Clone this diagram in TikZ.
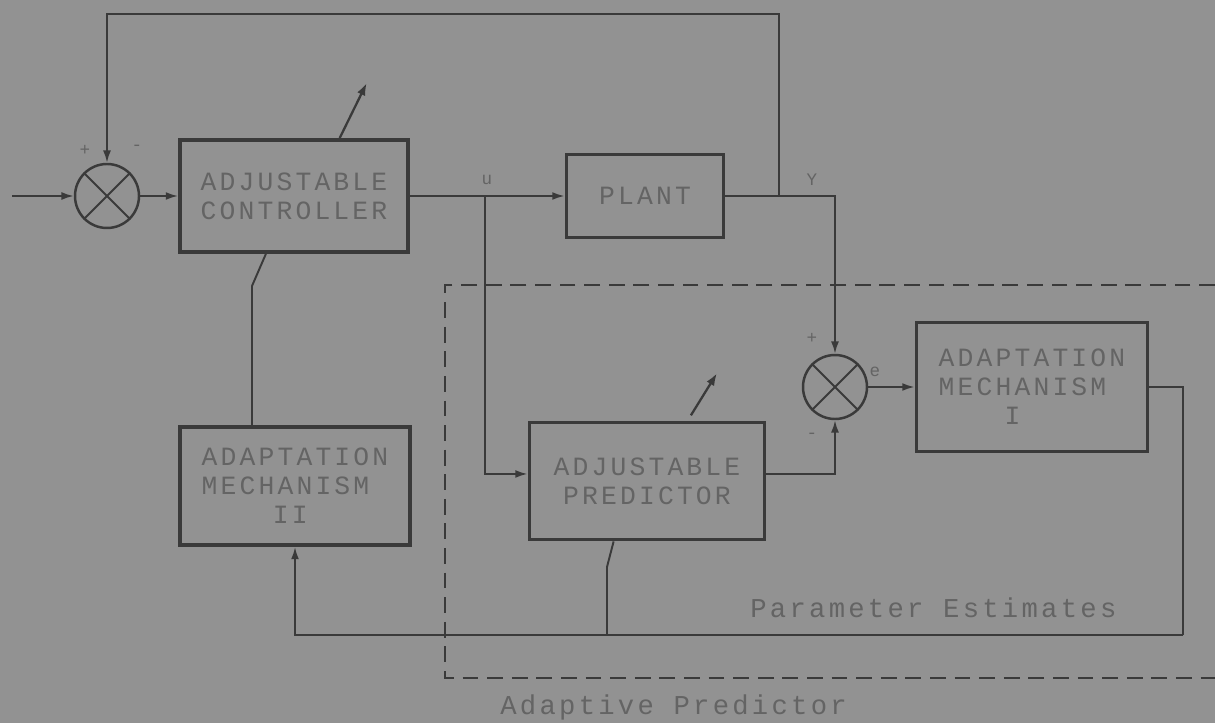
\documentclass[tikz,border=0pt]{standalone}
\usepackage{fontspec}
\newfontfamily\typewr[LetterSpace=12]{Liberation Mono}
\usepackage{xcolor}
\usetikzlibrary{arrows.meta,positioning}
\definecolor{paper}{RGB}{146,146,146}
\definecolor{ink}{RGB}{58,58,58}
\definecolor{typed}{RGB}{100,100,100}

\begin{document}
\begin{tikzpicture}[x=0.02cm, y=-0.02cm,
  block/.style={rectangle, draw=ink, line width=2.2pt, text=typed, align=center,
    inner sep=0pt, font=\typewr\fontsize{15}{16.5}\selectfont},
  summer/.style={circle, draw=ink, line width=1.4pt, minimum size=1.28cm, inner sep=0pt},
  wire/.style={draw=ink, line width=1.1pt},
  arr/.style={wire, -{Latex[length=7pt,width=4.5pt]}},
  tune/.style={draw=ink, line width=1.3pt, -{Latex[length=7pt,width=5pt]}},
  sign/.style={text=typed, font=\typewr\fontsize{10}{10}\selectfont, inner sep=0pt},
  dashbox/.style={draw=ink, line width=1.5pt, dash pattern=on 9pt off 5pt},
  note/.style={text=typed, font=\typewr\fontsize{15.5}{17}\selectfont, inner sep=0pt}
]

\fill[paper] (0,0) rectangle (1215,723);
\useasboundingbox (0,0) rectangle (1215,723);

% loop: controller and plant
\node[summer] (s1) at (107,196) {};
\node[block, minimum width=4.56cm, minimum height=2.24cm] (ctrl) at (294,196) {ADJUSTABLE\\CONTROLLER};
\node[block, minimum width=3.14cm, minimum height=1.66cm] (plant) at (645,196) {PLANT};

% adaptive part
\node[summer] (s2) at (835,387) {};
\node[block, minimum width=4.62cm, minimum height=2.58cm, align=left] (mechA) at (1032,387)
  {ADAPTATION\\MECHANISM\\\hspace*{2.5em}I};
\node[block, minimum width=4.7cm, minimum height=2.34cm] (pred) at (647,481) {ADJUSTABLE\\PREDICTOR};
\node[block, minimum width=4.6cm, minimum height=2.36cm, align=left] (mechB) at (295,486)
  {ADAPTATION\\MECHANISM\\\hspace*{2.7em}II};

\foreach \s in {s1,s2}
  \draw[ink, line width=1.1pt] (\s.north west) -- (\s.south east) (\s.north east) -- (\s.south west);

% signs
\node[sign] (s1p) at (85,150) {+};
\node[sign] (s1m) at (137,148) {-};
\node[sign] (ulab) at (487,180) {u};
\node[sign] (ylab) at (812,180) {Y};
\node[sign] (s2p) at (812,338) {+};
\node[sign] (elab) at (875,372) {e};
\node[sign] (s2m) at (812,436) {-};

% junctions
\coordinate (in) at (12,196);
\coordinate (u) at (485,196);
\coordinate (yj) at (779,196);
\coordinate (top) at (779,14);
\coordinate (pe) at (1183,635);
\coordinate (pj) at (607,635);
\coordinate (pk) at (607,567);
\coordinate (mk) at (252,286);

\draw[arr] (in) -- (s1.west);
\draw[arr] (s1) -- (ctrl);
\draw[arr] (ctrl) -- (plant);
\draw[arr] (yj) -- (top) -| (s1.north);
\draw[arr] (plant.east) -| (s2.north);
\draw[arr] (s2) -- (mechA);
\draw[arr] (u) |- ([yshift=4pt]pred.west);
\draw[arr] ([yshift=4pt]pred.east) -| (s2.south);
\draw[wire] (mechA.east) -| (pe);
\draw[arr] (pe) -| (mechB.south);
\draw[wire] (pj) -- (pk) -- ([xshift=-19pt]pred.south);
\draw[wire] (mechB.north -| mk) -- (mk) -- ([xshift=-16pt]ctrl.south);

% adjustable marks
\draw[tune] ([xshift=26pt]ctrl.north) -- ++(27,-55);
\draw[tune] ([xshift=25pt,yshift=3pt]pred.north) -- ++(26,-42);

% adaptive predictor frame
\coordinate (dtl) at (445,285);
\coordinate (dtr) at (1215,285);
\coordinate (dbl) at (445,678);
\coordinate (dbr) at (1215,678);
\draw[dashbox] (dtr) -- (dtl) -- (dbl) -- (dbr);

\node[note, anchor=west] (est) at (750,608) {Parameter Estimates};
\node[note, anchor=west] (apred) at (500,707) {Adaptive Predictor};

\end{tikzpicture}
\end{document}
